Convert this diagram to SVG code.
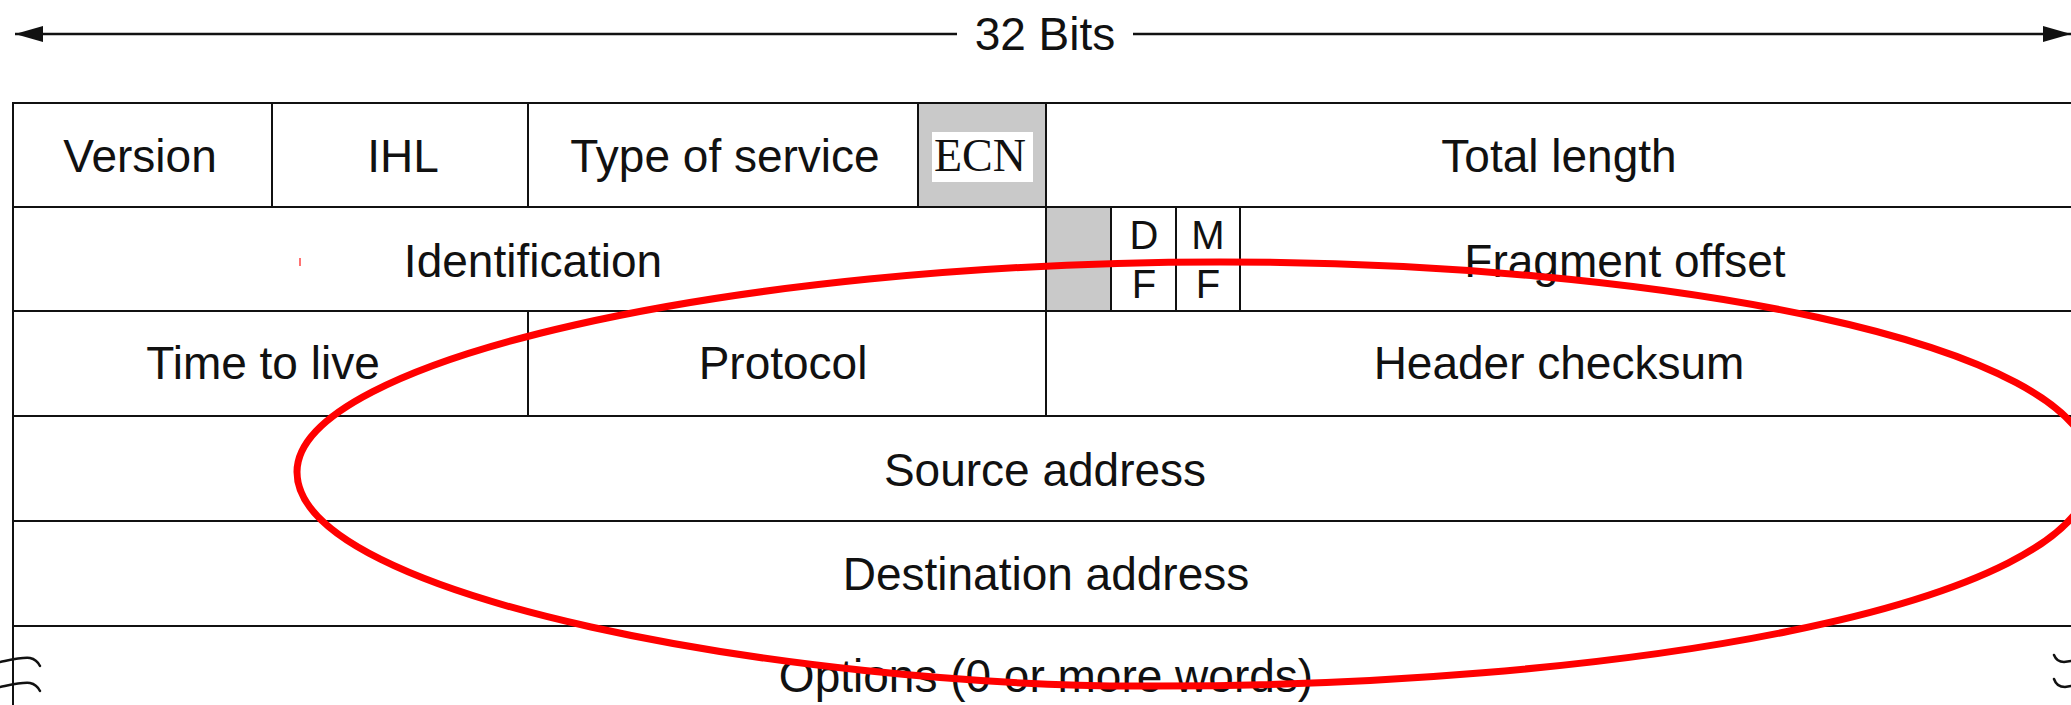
<svg xmlns="http://www.w3.org/2000/svg" width="2071" height="705" viewBox="0 0 2071 705">
  <style>
    .cell{fill:#fff;stroke:#111;stroke-width:2}
    .shade{fill:#c9c9c9;stroke:#111;stroke-width:2}
    .lbl{font-family:"Liberation Sans",Arial,Helvetica,sans-serif;font-size:46px;fill:#111;text-anchor:middle}
    .flag{font-size:40px}
    .ecn{font-family:"Liberation Serif","Times New Roman",serif;font-size:46px;fill:#111;text-anchor:middle}
    .dim{stroke:#111;stroke-width:2.5;fill:none}
    .brk{stroke:#111;stroke-width:2.5;fill:none;stroke-linecap:round}
    .ring{fill:none;stroke:#f00;stroke-width:7}
  </style>
  <defs>
    <marker id="ah" markerUnits="userSpaceOnUse" markerWidth="28" markerHeight="16" viewBox="0 0 28 16" refX="28" refY="8" orient="auto">
      <path d="M0,0 L28,8 L0,16 Z" fill="#111"/>
    </marker>
  </defs>

  <rect width="2071" height="705" fill="#fff"/>

  <!-- width indicator -->
  <g id="connectors">
    <line class="dim" x1="957" y1="34" x2="15" y2="34" marker-end="url(#ah)"/>
    <line class="dim" x1="1133" y1="34" x2="2071" y2="34" marker-end="url(#ah)"/>
  </g>
  <g id="width-label">
    <text class="lbl" x="1045" y="50">32 Bits</text>
  </g>

  <!-- row 1 -->
  <g id="version"><rect class="cell" x="13" y="103" width="259" height="104"/><text class="lbl" x="140" y="172">Version</text></g>
  <g id="ihl"><rect class="cell" x="272" y="103" width="256" height="104"/><text class="lbl" x="403" y="172">IHL</text></g>
  <g id="tos"><rect class="cell" x="528" y="103" width="390" height="104"/><text class="lbl" x="725" y="172">Type of service</text></g>
  <g id="ecn"><rect class="shade" x="918" y="103" width="128" height="104"/><rect x="932" y="132" width="101" height="50" fill="#fff"/><text class="ecn" x="980" y="171">ECN</text></g>
  <g id="total-length"><rect class="cell" x="1046" y="103" width="1040" height="104"/><text class="lbl" x="1559" y="172">Total length</text></g>

  <!-- row 2 -->
  <g id="identification"><rect class="cell" x="13" y="207" width="1033" height="104"/><text class="lbl" x="533" y="277">Identification</text></g>
  <g id="reserved"><rect class="shade" x="1046" y="207" width="65" height="104"/></g>
  <g id="df"><rect class="cell" x="1111" y="207" width="65" height="104"/><text class="lbl flag" x="1144" y="249">D</text><text class="lbl flag" x="1144" y="298">F</text></g>
  <g id="mf"><rect class="cell" x="1176" y="207" width="64" height="104"/><text class="lbl flag" x="1208" y="249">M</text><text class="lbl flag" x="1208" y="298">F</text></g>
  <g id="fragment-offset"><rect class="cell" x="1240" y="207" width="846" height="104"/><text class="lbl" x="1625" y="277">Fragment offset</text></g>

  <!-- row 3 -->
  <g id="ttl"><rect class="cell" x="13" y="311" width="515" height="105"/><text class="lbl" x="263" y="379">Time to live</text></g>
  <g id="protocol"><rect class="cell" x="528" y="311" width="518" height="105"/><text class="lbl" x="783" y="379">Protocol</text></g>
  <g id="checksum"><rect class="cell" x="1046" y="311" width="1040" height="105"/><text class="lbl" x="1559" y="379">Header checksum</text></g>

  <!-- rows 4-6 -->
  <g id="source"><rect class="cell" x="13" y="416" width="2073" height="105"/><text class="lbl" x="1045" y="486">Source address</text></g>
  <g id="destination"><rect class="cell" x="13" y="521" width="2073" height="105"/><text class="lbl" x="1046" y="590">Destination address</text></g>
  <g id="options"><rect class="cell" x="13" y="626" width="2073" height="100"/><text class="lbl" x="1046" y="692">Options (0 or more words)</text></g>

  <!-- break marks on the open-ended options row -->
  <g id="breaks">
    <path class="brk" d="M0,662 C10,660 22,657 30,658 C35,659 38,662 40,666"/>
    <path class="brk" d="M0,687 C10,685 22,682 30,683 C35,684 38,687 40,691"/>
    <path class="brk" d="M2054,655 C2056,660 2059,662 2064,662 L2071,661"/>
    <path class="brk" d="M2054,679 C2056,685 2060,687 2065,687 L2071,686"/>
  </g>

  <!-- hand-drawn highlight -->
  <g id="highlight">
    <line x1="300" y1="258" x2="300" y2="266" stroke="#f44" stroke-width="1.5"/>
    <path class="ring" d="M297,472 C297,360 730,262 1220,262 C1650,262 2092,340 2092,470 C2092,610 1600,688 1140,686 C800,686 297,600 297,472 Z"/>
  </g>
</svg>
